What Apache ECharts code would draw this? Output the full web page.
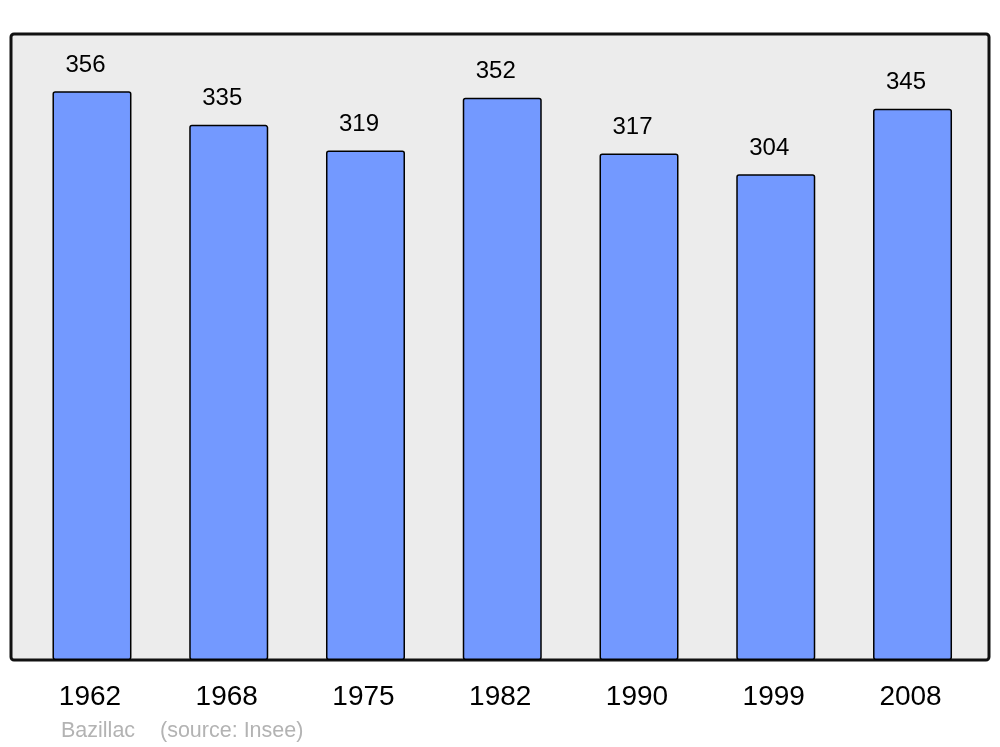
<!DOCTYPE html>
<html><head><meta charset="utf-8">
<script src="https://cdn.jsdelivr.net/npm/echarts@6/dist/echarts.min.js"></script>
<style>html,body{margin:0;padding:0;background:#fff}#c{width:1000px;height:747px}</style>
</head><body><div id="c"></div>
<script>
const years = ['1962','1968','1975','1982','1990','1999','2008'];
const population = [356, 335, 319, 352, 317, 304, 345];
const sourceNote = ['Bazillac', '(source: Insee)'];

const chart = echarts.init(document.getElementById('c'), null, {renderer: 'canvas'});
chart.setOption({
  animation: false,
  backgroundColor: '#ffffff',
  textStyle: {fontFamily: '"Liberation Sans", Arial, sans-serif'},
  grid: {left: 23.6, right: 19.1, top: 21, bottom: 87, containLabel: false},
  graphic: [
    {type: 'rect', z: 0, shape: {x: 11, y: 34, width: 978, height: 626, r: 3},
     style: {fill: '#ececec', stroke: '#111', lineWidth: 3}},
    {type: 'text', z: 5, x: 61, y: 731, style: {text: sourceNote[0], fill: '#b3b3b3', font: '21.5px "Liberation Sans", Arial, sans-serif', textVerticalAlign: 'middle'}},
    {type: 'text', z: 5, x: 160, y: 731, style: {text: sourceNote[1], fill: '#b3b3b3', font: '21.5px "Liberation Sans", Arial, sans-serif', textVerticalAlign: 'middle'}}
  ],
  xAxis: {
    type: 'category', data: years,
    axisLine: {show: false}, axisTick: {show: false},
    axisLabel: {fontSize: 28, color: '#000', margin: 23, padding: [0, 4, 0, 0], fontFamily: '"Liberation Sans", Arial, sans-serif'}
  },
  yAxis: {
    type: 'value', min: 0, max: 400, show: false, splitLine: {show: false}
  },
  series: [{
    type: 'bar', z: 2, data: population, barWidth: 79,
    itemStyle: {color: '#7399ff', borderColor: '#000', borderWidth: 1.5, borderRadius: 2},
    label: {show: true, position: 'top', distance: 14, offset: [-6.5, 0], fontSize: 24, color: '#000', fontFamily: '"Liberation Sans", Arial, sans-serif'}
  }]
});
</script></body></html>
